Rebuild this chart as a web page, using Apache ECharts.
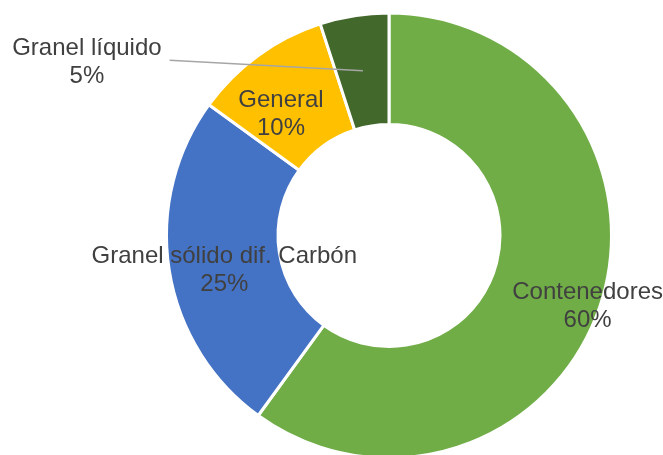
<!DOCTYPE html>
<html>
<head>
<meta charset="utf-8">
<script src="https://cdn.jsdelivr.net/npm/echarts@6/dist/echarts.min.js"></script>
<style>
  html, body { margin: 0; padding: 0; background: #fff; }
  #chart { width: 663px; height: 455px; }
</style>
</head>
<body>
<div id="chart"></div>
<script>
const categories = ['Contenedores', 'Granel sólido dif. Carbón', 'General', 'Granel líquido']
const shares = [60, 25, 10, 5]
const colors = ['#70AD47', '#4472C4', '#FFC000', '#43682B']
// label nudges from the middle of each ring segment, px
const labelOffsets = [[40, 19], [0, 8.5], [-10, 14], [-276, -8.5]]
const FONT = 'Liberation Sans, Arial, sans-serif'

const cx = 389, cy = 235.5
const rIn = 111, rOut = 222.5
const rMid = (rIn + rOut) / 2

const total = shares.reduce((a, b) => a + b, 0)
let acc = 0
const anchors = shares.map(v => {
  const ang = (90 - 360 * (acc + v / 2) / total) * Math.PI / 180
  acc += v
  return [cx + rMid * Math.cos(ang), cy - rMid * Math.sin(ang)]
})
const labelPos = anchors.map((a, i) => [a[0] + labelOffsets[i][0], a[1] + labelOffsets[i][1]])

// leader line for the small slice: from its label out to the middle of the segment
function textWidth(s) {
  const ctx = document.createElement('canvas').getContext('2d')
  ctx.font = '24px ' + FONT
  return ctx.measureText(s).width
}
const leadIdx = 3
const leadStart = [labelPos[leadIdx][0] + textWidth(categories[leadIdx]) / 2 + 8, labelPos[leadIdx][1] - 2]
const leadEnd = anchors[leadIdx]

const chart = echarts.init(document.getElementById('chart'))

chart.setOption({
  animation: false,
  backgroundColor: '#fff',
  graphic: [{
    type: 'line',
    z: 100,
    silent: true,
    shape: { x1: leadStart[0], y1: leadStart[1], x2: leadEnd[0], y2: leadEnd[1] },
    style: { stroke: '#A6A6A6', lineWidth: 1.5 }
  }],
  series: [{
    type: 'pie',
    center: [cx, cy],
    radius: [rIn, rOut],
    startAngle: 90,
    clockwise: true,
    avoidLabelOverlap: false,
    itemStyle: { borderColor: '#fff', borderWidth: 3 },
    label: {
      position: 'inside',
      color: '#404040',
      fontFamily: FONT,
      fontSize: 24,
      lineHeight: 28,
      formatter: '{b}\n{d}%'
    },
    labelLine: { show: false },
    labelLayout: p => {
      const q = labelPos[p.dataIndex]
      return { x: q[0], y: q[1], align: 'center', verticalAlign: 'middle' }
    },
    emphasis: { disabled: true },
    data: categories.map((name, i) => ({ name: name, value: shares[i], itemStyle: { color: colors[i] } }))
  }]
})
</script>
</body>
</html>
